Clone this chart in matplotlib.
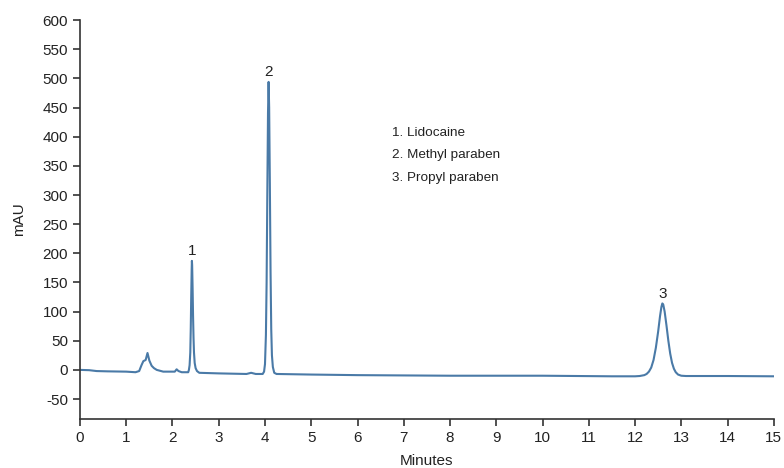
import matplotlib
matplotlib.use("Agg")
import matplotlib.pyplot as plt
import numpy as np

plt.rcParams["axes.unicode_minus"] = False

# trace points (minutes, mAU)
time = [0.00, 0.20, 0.36, 0.60, 1.00, 1.20, 1.28, 1.33, 1.37, 1.42, 1.46, 1.50,
        1.55, 1.60, 1.66, 1.80, 2.05, 2.09, 2.13, 2.20, 2.34,
        2.355, 2.37, 2.385, 2.395, 2.405, 2.415, 2.42, 2.425, 2.435, 2.445,
        2.455, 2.465, 2.48, 2.50, 2.53, 2.58, 3.00, 3.60, 3.70, 3.80, 3.95,
        3.98, 4.00, 4.02, 4.035, 4.05, 4.065, 4.078, 4.09, 4.105, 4.12,
        4.135, 4.15, 4.17, 4.20, 4.25, 5.00, 6.00, 8.00, 10.00, 11.50,
        12.00, 12.10, 12.20, 12.25, 12.30, 12.35, 12.40, 12.45, 12.50,
        12.54, 12.57, 12.59, 12.61, 12.64, 12.68, 12.72, 12.76, 12.80,
        12.84, 12.88, 12.93, 13.00, 13.10, 14.00, 15.00]
signal = [0, -0.5, -2, -2.5, -3, -4, -2, 8, 15, 17, 29, 16,
          7, 3, 0, -3, -3, 1, -2, -4, -4,
          0, 8, 30, 70, 125, 172, 187, 180, 140, 92,
          55, 30, 12, 3, -2, -5, -6, -7, -5, -7, -7,
          -3, 10, 60, 150, 300, 440, 494, 450, 320, 170,
          70, 25, 5, -5, -7, -8, -9, -10, -10, -11,
          -11, -10.5, -9, -7, -3, 4, 17, 38, 66,
          92, 108, 114, 112, 100, 76, 50, 28, 12,
          2, -4, -8, -10, -10.5, -10.5, -11]

peak_labels = ["1", "2", "3"]
peak_times = [2.42, 4.078, 12.59]
peak_heights = [187, 494, 114]

compounds = ["1. Lidocaine", "2. Methyl paraben", "3. Propyl paraben"]

ink = "#333333"
line_color = "#4a7aa7"

fig = plt.figure(figsize=(7.84, 4.68), dpi=100)
ax = fig.add_axes([0.102, 0.105, 0.885, 0.852])

ax.plot(time, signal, color=line_color, linewidth=1.5)

for lab, t, h in zip(peak_labels, peak_times, peak_heights):
    ax.annotate(lab, (t, h), xytext=(0, 2), textcoords="offset points",
                ha="center", va="bottom", fontsize=11, color="#222222",
                family=["Liberation Sans", "DejaVu Sans"])

for i, name in enumerate(compounds):
    ax.text(0.45, 0.717 - i * 0.0565, name, transform=ax.transAxes,
            ha="left", va="center", fontsize=9.7, color="#222222",
            family=["Liberation Sans Narrow", "Liberation Sans", "DejaVu Sans"])

ax.set_xlim(0, 15)
ax.set_ylim(-84, 600)
ax.set_xticks(np.arange(0, 16, 1))
ax.set_yticks(np.arange(-50, 601, 50))

for side in ["top", "right"]:
    ax.spines[side].set_visible(False)
for side in ["left", "bottom"]:
    ax.spines[side].set_color(ink)
    ax.spines[side].set_linewidth(1.2)

ax.tick_params(direction="out", length=5, width=1.2, color=ink,
               labelcolor="#222222", labelsize=11)
for lbl in ax.get_xticklabels() + ax.get_yticklabels():
    lbl.set_family(["Liberation Sans", "DejaVu Sans"])

ax.set_xlabel("Minutes", fontsize=11, color="#222222", labelpad=7,
              family=["Liberation Sans Narrow", "Liberation Sans", "DejaVu Sans"])
ax.set_ylabel("mAU", fontsize=11, color="#222222", labelpad=12,
              family=["Liberation Sans", "DejaVu Sans"])

fig.savefig("out.png", dpi=100)
